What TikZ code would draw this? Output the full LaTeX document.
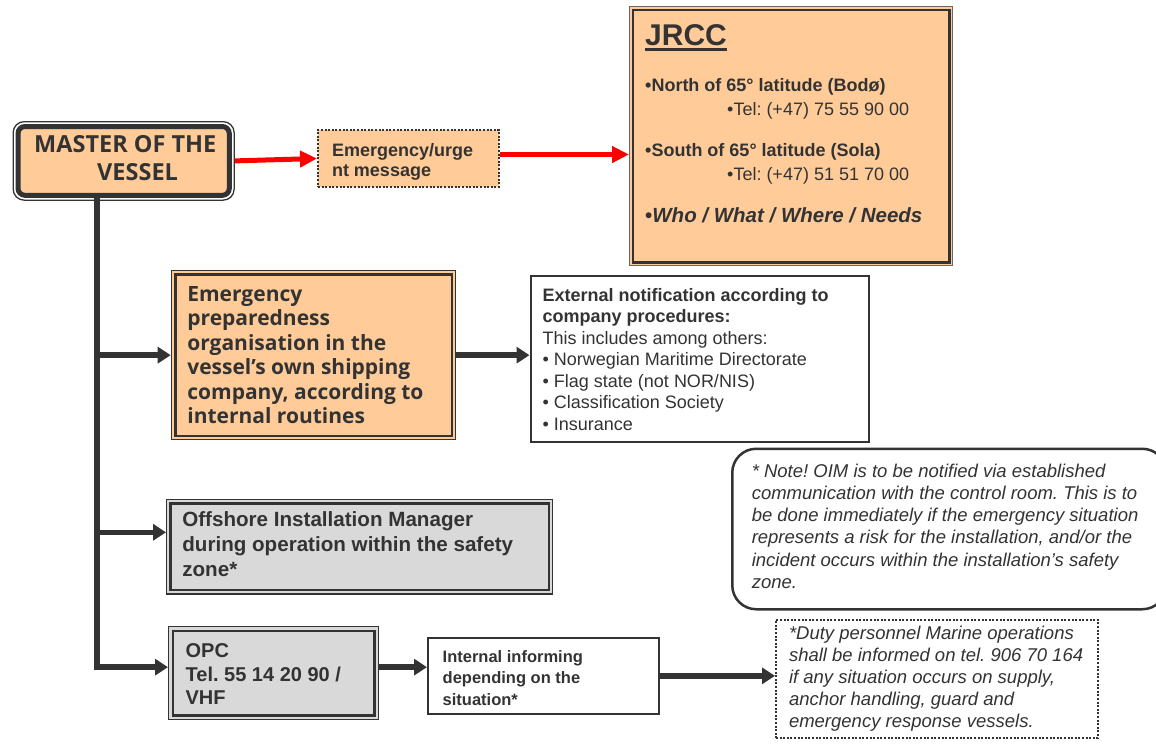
\documentclass[tikz,border=0pt]{standalone}
\usepackage{fontspec}
\setmainfont{Liberation Sans}
\newfontfamily\lucida{Open Sans}
\usetikzlibrary{arrows.meta,calc}
\definecolor{peach}{HTML}{FFCC99}
\definecolor{ink}{HTML}{333333}
\definecolor{boxgray}{HTML}{D9D9D9}
\frenchspacing
\newcommand\fs[2]{\fontsize{#1pt}{#2pt}\selectfont}
\newcommand\tb[5]{\begin{minipage}[c][#2pt][t]{#1pt}\raggedright\leftskip=#3pt\relax\rule{0pt}{#4pt}\ignorespaces#5\end{minipage}}
\tikzset{
  box/.style={inner sep=0pt, anchor=north west, draw=ink, text=ink},
  framebox/.style={box, line width=1.3pt},
  inframe/.style={draw=ink, line width=2.6pt},
  dotbox/.style={box, line width=2pt, dash pattern=on 2pt off 1.6pt},
  arr/.style={draw=ink, line width=5.5pt, -{Triangle[length=13pt,width=16pt]}},
  redarr/.style={draw=red, line width=5pt, -{Triangle[length=17pt,width=16pt]}},
  txt/.style={inner sep=0pt, anchor=base west, text=ink},
}
\begin{document}
\begin{tikzpicture}[x=1pt,y=-1pt]
\useasboundingbox[fill=white] (0,0) rectangle (1156,747);

% MASTER
\node[box, line width=1.3pt, rounded corners=11pt] (master) at (12.5,121) {\tb{221}{78.5}{0}{0}{}};
\fill[peach] ([shift={(5.5,5.5)}]master.north west) [rounded corners=7pt] rectangle ([shift={(-5.5,-5.5)}]master.south east);
\draw[draw=ink, line width=5pt, rounded corners=7pt] ([shift={(5.5,5.5)}]master.north west) rectangle ([shift={(-5.5,-5.5)}]master.south east);
\node[txt, font=\lucida\bfseries\fs{23.5}{27.3}] (mt1) at (34,152.7) {MASTER OF THE};
\node[txt, font=\lucida\bfseries\fs{23.5}{27.3}] (mt2) at (97,180) {VESSEL};

% Emergency message
\node[dotbox, fill=peach, font=\bfseries\fs{18}{20}] (msg) at (317,129)
  {\tb{181}{57}{14}{26}{Emergency/urge\\nt message}};

% JRCC
\node[box, draw=ink!75, line width=1.3pt, fill=peach] (jrcc) at (629,6) {\tb{323}{259}{0}{0}{}};
\draw[inframe] ([shift={(4,4)}]jrcc.north west) rectangle ([shift={(-4,-4)}]jrcc.south east);
\node[txt, font=\bfseries\fs{30}{36}] (jt) at (645,45) {JRCC};
\draw[ink, line width=2.6pt] ($(jt.base west)+(0,4.7)$) -- ($(jt.base east)+(0,4.7)$);
\node[txt, font=\bfseries\fs{18}{22}] (jn) at (645,91.7) {•North of 65° latitude (Bodø)};
\node[txt, font=\fs{18}{22}] (jnt) at (727,115) {•Tel: (+47) 75 55 90 00};
\node[txt, font=\bfseries\fs{18}{22}] (js) at (645,156.7) {•South of 65° latitude (Sola)};
\node[txt, font=\fs{18}{22}] (jst) at (727,180) {•Tel: (+47) 51 51 70 00};
\node[txt, font=\bfseries\fs{20.5}{24}] (jw) at (645,222.7) {•\textit{Who / What / Where / Needs}};

% Emergency preparedness
\node[framebox, fill=peach, font=\lucida\bfseries\fs{21}{24.5}] (prep) at (170.7,270)
  {\tb{284.3}{169}{16}{30.7}{Emergency\\preparedness\\organisation in the\\vessel’s own shipping\\company, according to\\internal routines}};
\draw[inframe] ([shift={(4.5,4.5)}]prep.north west) rectangle ([shift={(-4.5,-4.5)}]prep.south east);

% External notification
\node[box, line width=2.3pt, fill=white, font=\fs{18}{21.5}] (ext) at (529.5,275)
  {\tb{338.5}{166}{12}{25}{\textbf{External notification according to}\\\textbf{company procedures:}\\This includes among others:\\• Norwegian Maritime Directorate\\• Flag state (not NOR/NIS)\\• Classification Society\\• Insurance}};

% Note
\node[box, line width=2.5pt, rounded corners=24pt, fill=white, font=\itshape\fs{18.5}{22.2}] (note) at (731,447.5)
  {\tb{434}{160.5}{19.5}{28.5}{* Note! OIM is to be notified via established\\communication with the control room. This is to\\be done immediately if the emergency situation\\represents a risk for the installation, and/or the\\incident occurs within the installation’s safety\\zone.}};

% OIM
\node[framebox, fill=boxgray, font=\bfseries\fs{20.6}{25}] (oim) at (166,499)
  {\tb{386}{94.3}{15.7}{27}{Offshore Installation Manager\\during operation within the safety\\zone*}};
\draw[inframe] ([shift={(4.5,4.5)}]oim.north west) rectangle ([shift={(-4.5,-4.5)}]oim.south east);

% OPC
\node[framebox, fill=boxgray, font=\bfseries\fs{20}{23.7}] (opc) at (168,626)
  {\tb{210}{93}{17}{30.7}{OPC\\Tel. 55 14 20 90 /\\VHF}};
\draw[inframe] ([shift={(5,5)}]opc.north west) rectangle ([shift={(-5,-5)}]opc.south east);

% Internal informing
\node[box, line width=2pt, fill=white, font=\bfseries\fs{16.5}{21.2}] (int) at (427,637)
  {\tb{231}{75.7}{14.7}{24.7}{Internal informing\\depending on the\\situation*}};

% Duty personnel
\node[dotbox, fill=white, font=\itshape\fs{18.5}{22}] (duty) at (775,619)
  {\tb{322}{118}{13}{19}{*Duty personnel Marine operations\\shall be informed on tel. 906 70 164\\if any situation occurs on supply,\\anchor handling, guard and\\emergency response vessels.}};

% Connectors
\draw[redarr] (master.east) -- (msg.west);
\coordinate (m1) at ($(msg.east)+(0,-4)$);
\draw[redarr] (m1) -- (m1 -| jrcc.west);

\coordinate (t0) at ($(master.south west)+(84.5,-3)$);
\coordinate (opcin) at ($(opc.west)+(0,-6)$);
\coordinate (oimin) at ($(oim.west)+(0,-14.5)$);
\draw[arr, line join=miter] (t0) |- (opcin);
\draw[arr] (t0 |- prep.west) -- (prep.west);
\draw[arr] (t0 |- oimin) -- (oimin);
\draw[arr] (prep.east) -- (prep.east -| ext.west);
\coordinate (opcout) at ($(opc.east)+(0,-6)$);
\draw[arr] (opcout) -- (opcout -| int.west);
\draw[arr] (int.east) -- (int.east -| duty.west);
\end{tikzpicture}
\end{document}
